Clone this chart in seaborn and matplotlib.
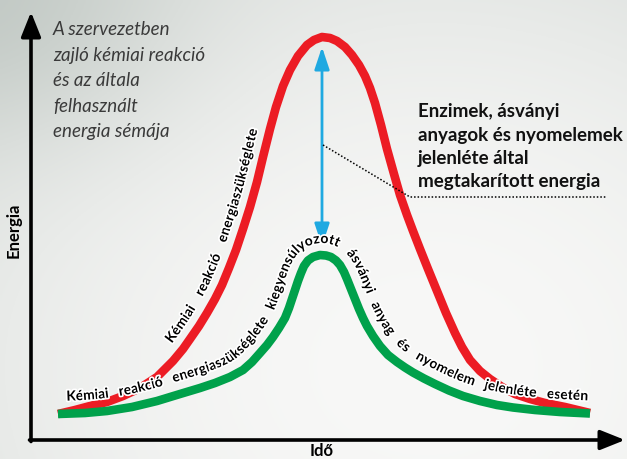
import numpy as np
import matplotlib
matplotlib.use("Agg")
import matplotlib.pyplot as plt
import matplotlib.patheffects as pe
from matplotlib.colors import to_rgb
from matplotlib.font_manager import FontProperties
from matplotlib.textpath import TextToPath
import seaborn as sns

# chart units: 1 unit = 1 px, origin at the axis corner
red_t = [27, 44, 59, 76, 92, 109, 126, 142, 152, 159, 168, 176, 184, 191, 198, 205,
         212, 219, 226, 232, 239, 245, 252, 259, 267, 276, 283, 291, 299, 306, 314,
         321, 328, 334, 339, 344, 350, 356, 363, 369, 376, 382, 389, 397, 406, 415,
         424, 431, 439, 449, 459, 471, 484, 499, 514, 534, 559]
red_e = [26, 30, 34, 38, 44, 52, 63, 79, 91, 101, 114, 127, 141, 155, 172, 190,
         211, 233, 258, 283, 311, 333, 354, 370, 384, 395, 400, 403, 402, 399, 393,
         385, 375, 364, 352, 337, 315, 291, 266, 245, 225, 209, 191, 171, 149, 127,
         107, 93, 80, 69, 61, 53, 46, 41, 37, 33, 27]

green_t = [27, 54, 76, 101, 126, 149, 169, 184, 199, 212, 221, 229, 236, 242, 248,
           254, 258, 261, 264, 267, 270, 273, 277, 282, 289, 295, 300, 305, 309, 313,
           316, 320, 324, 328, 332, 336, 342, 349, 357, 366, 374, 382, 393, 404, 418,
           432, 449, 466, 482, 504, 529, 559]
green_e = [26, 27, 29, 33, 39, 46, 52, 57, 63, 70, 78, 87, 95, 103, 112,
           122, 132, 141, 150, 159, 167, 174, 179.5, 183, 185, 184.5, 183, 179.5, 175, 168,
           161, 151, 141, 131, 122, 114, 104, 94, 85, 78, 72.5, 67.5, 61.5, 56, 49.5,
           44, 39, 35, 32.5, 30, 28, 26.5]

saved_t = 291
saved_e = [393, 194]          # red peak -> green peak
leader_t = [292, 379, 576]
leader_e = [295, 243, 243]

title_lines = ["A szervezetben", "zajló kémiai reakció", "és az általa",
               "felhasznált", "energia sémája"]
note_lines = ["Enzimek, ásványi", "anyagok és nyomelemek", "jelenléte által",
              "megtakarított energia"]
red_label = "Kémiai reakció energiaszükséglete"
green_label = ("Kémiai reakció energiaszükséglete kiegyensúlyozott ásványi anyag "
               "és nyomelem jelenléte esetén")

RED = "#ec1c24"
GREEN = "#00a14b"
BLUE = "#1fa9e1"
FONT = ["Lato", "DejaVu Sans"]

sns.set_theme(style="white")
plt.rcParams["font.family"] = FONT

fig = plt.figure(figsize=(6.27, 4.59), dpi=100)
ax = fig.add_axes([0, 0, 1, 1])
ax.set_xlim(-31, 596)
ax.set_ylim(-19, 440)
ax.axis("off")

# soft light background
gx, gy = np.meshgrid(np.linspace(0, 1, 240), np.linspace(0, 1, 180))
b = 1 - 0.55 * ((gx - 0.68) ** 2 + 0.8 * (gy - 0.8) ** 2)
b -= 0.35 * np.exp(-((gx - 0.02) ** 2 + (gy - 0.05) ** 2) / 0.08)
b = np.clip(b, 0, 1)
lo, hi = np.array(to_rgb("#bcc4bf")), np.array(to_rgb("#f8f8f7"))
bg = lo + (hi - lo) * b[..., None]
ax.imshow(bg, extent=(-31, 596, -19, 440), origin="upper", aspect="auto", zorder=0)

# curves
sns.lineplot(x=red_t, y=red_e, ax=ax, color=RED, lw=6.2, sort=False,
             solid_capstyle="butt", solid_joinstyle="round", zorder=2)
sns.lineplot(x=green_t, y=green_e, ax=ax, color=GREEN, lw=6.2, sort=False,
             solid_capstyle="butt", solid_joinstyle="round", zorder=3)

# saved energy arrow and leader
ax.annotate("", xy=(saved_t, saved_e[0]), xytext=(saved_t, saved_e[1]),
            arrowprops=dict(arrowstyle="<|-|>,head_length=0.9,head_width=0.3",
                            color=BLUE, lw=2, mutation_scale=15, shrinkA=0, shrinkB=0),
            zorder=4)
ax.plot(leader_t, leader_e, color="black", lw=1.1, ls=(0, (1, 1.3)), zorder=4)

# axes
arrow = dict(arrowstyle="-|>,head_length=0.75,head_width=0.3", color="black", lw=2.6,
             mutation_scale=20, shrinkA=0, shrinkB=0)
ax.annotate("", xy=(0, 428), xytext=(0, -1.5), arrowprops=arrow, zorder=5)
ax.annotate("", xy=(594, 0), xytext=(-1.5, 0), arrowprops=arrow, zorder=5)
ax.text(-17, 210, "Energia", rotation=90, ha="center", va="center",
        fontsize=12, fontweight="bold", color="black")
ax.text(291, -11, "Idő", ha="center", va="center", fontsize=12,
        fontweight="bold", color="black")

# texts
for i, line in enumerate(title_lines):
    ax.text(22, 405 - i * 25.5, line, ha="left", va="baseline", fontsize=13.5,
            style="italic", fontweight="normal", color="#3a3a3a", zorder=5)
for i, line in enumerate(note_lines):
    ax.text(387, 323 - i * 23.5, line, ha="left", va="baseline", fontsize=13.5,
            fontweight="bold", color="#111111", zorder=5)


ttp = TextToPath()


def advance(c, prop):
    w1 = ttp.get_text_width_height_descent("|" + c + "|", prop, ismath=False)[0]
    w0 = ttp.get_text_width_height_descent("||", prop, ismath=False)[0]
    return (w1 - w0) * 100 / 72


def text_along(text, cx, cy, t_from, t_to, offset, size):
    cx, cy = np.asarray(cx, float), np.asarray(cy, float)
    seg = np.concatenate([[0], np.cumsum(np.hypot(np.diff(cx), np.diff(cy)))])
    ss = np.arange(0, seg[-1], 0.5)
    x, y = np.interp(ss, seg, cx), np.interp(ss, seg, cy)
    k = 41
    pad = k // 2
    xp = np.pad(x, pad, mode="edge")
    yp = np.pad(y, pad, mode="edge")
    x = np.convolve(xp, np.ones(k) / k, mode="valid")
    y = np.convolve(yp, np.ones(k) / k, mode="valid")
    tx, ty = np.gradient(x), np.gradient(y)
    n = np.hypot(tx, ty)
    tx, ty = tx / n, ty / n
    ox, oy = x - offset * ty, y + offset * tx
    arc = np.concatenate([[0], np.cumsum(np.hypot(np.diff(ox), np.diff(oy)))])
    s0 = arc[np.searchsorted(x, t_from)]
    s1 = arc[min(np.searchsorted(x, t_to), len(arc) - 1)]
    prop = FontProperties(family=FONT, weight="bold", size=size)
    words = text.split()
    widths = [[advance(c, prop) for c in w] for w in words]
    total = sum(sum(w) for w in widths)
    gap = (s1 - s0 - total) / (len(words) - 1)
    pos = s0
    for w, ws in zip(words, widths):
        for c, cw in zip(w, ws):
            sc = pos + cw / 2
            ang = np.degrees(np.arctan2(np.interp(sc, arc, ty), np.interp(sc, arc, tx)))
            ax.text(np.interp(sc, arc, ox), np.interp(sc, arc, oy), c, rotation=ang,
                    rotation_mode="anchor", ha="center", va="baseline",
                    fontproperties=prop, color="black", zorder=6,
                    path_effects=[pe.withStroke(linewidth=2.5, foreground="white")])
            pos += cw
        pos += gap


text_along(red_label, red_t, red_e, 150, 238, 12, 10)
text_along(green_label, green_t, green_e, 36, 559, 13, 10)

fig.savefig("out.png", dpi=100)
